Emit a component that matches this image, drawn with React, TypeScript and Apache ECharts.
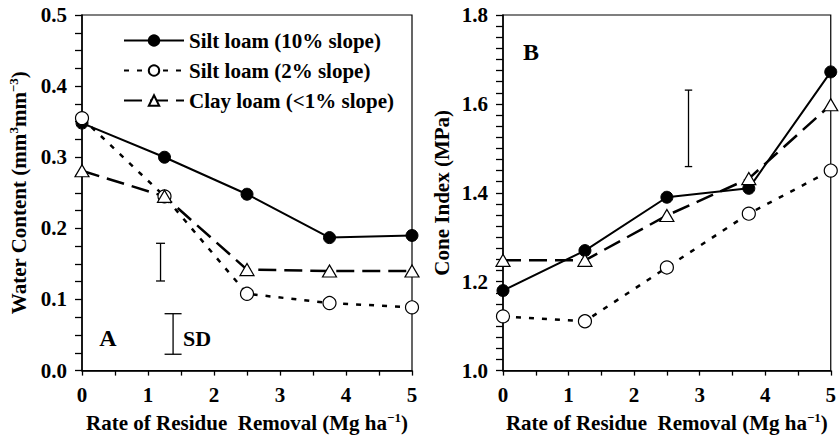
import React, { useEffect, useRef } from "react";
import * as echarts from "echarts";

const xRates = [0, 1.25, 2.5, 3.75, 5];
const seriesNames = ["Silt loam (10% slope)", "Silt loam (2% slope)", "Clay loam (<1% slope)"];
const waterSilt10 = [0.348, 0.3, 0.248, 0.187, 0.19];
const waterSilt2 = [0.355, 0.245, 0.108, 0.095, 0.089];
const waterClay = [0.281, 0.245, 0.142, 0.14, 0.14];
const coneSilt10 = [1.18, 1.27, 1.39, 1.41, 1.672];
const coneSilt2 = [1.122, 1.111, 1.232, 1.353, 1.45];
const coneClay = [1.248, 1.248, 1.349, 1.432, 1.598];
// error bars: [x, low, high]
const sdBarsWater = [
  [1.19, 0.126, 0.179],
  [1.38, 0.023, 0.08],
];
const sdBarsCone = [[2.83, 1.459, 1.631]];
const capHalfWater = [4.5, 8.5];
const capHalfCone = [3.7];

const FONT = '"Liberation Serif", "Times New Roman", serif';

export default function App() {
  const ref = useRef<HTMLDivElement>(null);
  useEffect(() => {
    if (!ref.current) return;
    const chart = echarts.init(ref.current, undefined, { renderer: "svg" });
    const txt = { fontFamily: FONT, fontWeight: "bold" as const, color: "#000" };
    const rich = {
      sup: { fontFamily: FONT, fontWeight: "bold", fontSize: 13, verticalAlign: "top", color: "#000" },
      n: { fontFamily: FONT, fontWeight: "bold", fontSize: 21, lineHeight: 24, color: "#000" },
    };
    const xAxisBase = (gridIndex: number) => ({
      type: "value",
      gridIndex,
      min: 0,
      max: 5,
      interval: 1,
      axisLine: { show: true, lineStyle: { color: "#000", width: 1.5 } },
      axisTick: { show: true, inside: false, length: 5, lineStyle: { color: "#000", width: 1.3 } },
      minorTick: { show: true, splitNumber: 2, length: 5, lineStyle: { color: "#000", width: 1.3 } },
      splitLine: { show: false },
      minorSplitLine: { show: false },
      axisLabel: { ...txt, fontSize: 21, margin: 14 },
      name: "{n|Rate of Residue  Removal (Mg ha}{sup|−1}{n|)}",
      nameLocation: "middle",
      nameGap: 36,
      nameTextStyle: { ...txt, fontSize: 21, rich },
    });
    const lineSeries = (name: string, data: number[], idx: number, kind: number) => {
      const base: any = {
        type: "line",
        name,
        xAxisIndex: idx,
        yAxisIndex: idx,
        data: xRates.map((x, i) => [x, data[i]]),
        symbolSize: 12,
        z: 3,
      };
      if (kind === 0) {
        base.symbol = "circle";
        base.symbolSize = 12;
        base.itemStyle = { color: "#000", borderColor: "#000", borderWidth: 1 };
        base.lineStyle = { color: "#000", width: 2, type: "solid" };
      } else if (kind === 1) {
        base.symbol = "circle";
        base.symbolSize = 13;
        base.itemStyle = { color: "#fff", borderColor: "#000", borderWidth: 1.2 };
        base.lineStyle = { color: "#000", width: 2.5, type: [5, 8] };
      } else {
        base.symbol = "triangle";
        base.symbolSize = [14, 12];
        base.itemStyle = { color: "#fff", borderColor: "#000", borderWidth: 1.2 };
        base.lineStyle = { color: "#000", width: 2.5, type: [18, 8] };
      }
      return base;
    };
    const errSeries = (bars: number[][], caps: number[], idx: number) => ({
      type: "custom",
      xAxisIndex: idx,
      yAxisIndex: idx,
      silent: true,
      data: bars,
      encode: { x: 0, y: [1, 2] },
      renderItem: (params: any, api: any) => {
        const x = api.value(0);
        const top = api.coord([x, api.value(2)]);
        const bot = api.coord([x, api.value(1)]);
        const h = caps[params.dataIndex];
        const st = { stroke: "#000", lineWidth: 1.3 };
        return {
          type: "group",
          children: [
            { type: "line", shape: { x1: top[0], y1: top[1], x2: bot[0], y2: bot[1] }, style: st },
            { type: "line", shape: { x1: top[0] - h, y1: top[1], x2: top[0] + h, y2: top[1] }, style: st },
            { type: "line", shape: { x1: bot[0] - h, y1: bot[1], x2: bot[0] + h, y2: bot[1] }, style: st },
          ],
        };
      },
    });
    const yAxisCommon = {
      type: "value",
      axisLine: { show: true, lineStyle: { color: "#000", width: 1.5 } },
      axisTick: { show: true, inside: false, length: 7, lineStyle: { color: "#000", width: 1.3 } },
      splitLine: { show: false },
      minorSplitLine: { show: false },
      axisLabel: { ...txt, fontSize: 21, margin: 15, formatter: (v: number) => v.toFixed(1) },
      nameLocation: "middle",
      nameRotate: 90,
      nameGap: 51,
    };
    const option: any = {
      animation: false,
      backgroundColor: "#fff",
      grid: [
        { left: 82, top: 15, width: 330, height: 361, show: true, borderColor: "#000", borderWidth: 1.2, backgroundColor: "transparent" },
        { left: 503, top: 15, width: 331, height: 361, show: true, borderColor: "#000", borderWidth: 1.2, backgroundColor: "transparent" },
      ],
      legend: {
        data: seriesNames,
        orient: "vertical",
        left: 118,
        top: 25,
        itemWidth: 60,
        itemHeight: 13,
        itemGap: 9,
        textStyle: { ...txt, fontSize: 21 },
        selectedMode: false,
      },
      xAxis: [xAxisBase(0), xAxisBase(1)],
      yAxis: [
        {
          ...yAxisCommon,
          gridIndex: 0,
          min: 0,
          max: 0.5,
          interval: 0.1,
          minorTick: { show: true, splitNumber: 4, length: 7, lineStyle: { color: "#000", width: 1.3 } },
          name: "{n|Water Content (mm}{sup|3}{n|mm}{sup|−3}{n|)}",
          nameTextStyle: { ...txt, fontSize: 21, rich },
        },
        {
          ...yAxisCommon,
          gridIndex: 1,
          min: 1.0,
          max: 1.8,
          interval: 0.2,
          minorTick: { show: true, splitNumber: 8, length: 7, lineStyle: { color: "#000", width: 1.3 } },
          name: "Cone Index (MPa)",
          nameTextStyle: { ...txt, fontSize: 21 },
        },
      ],
      graphic: [
        { type: "text", x: 108, y: 338, style: { text: "A", fontFamily: FONT, fontWeight: "bold", fontSize: 24, fill: "#000", align: "center", verticalAlign: "middle" } },
        { type: "text", x: 183, y: 338, style: { text: "SD", fontFamily: FONT, fontWeight: "bold", fontSize: 22, fill: "#000", align: "left", verticalAlign: "middle" } },
        { type: "text", x: 531, y: 52, style: { text: "B", fontFamily: FONT, fontWeight: "bold", fontSize: 24, fill: "#000", align: "center", verticalAlign: "middle" } },
      ],
      series: [
        lineSeries(seriesNames[0], waterSilt10, 0, 0),
        lineSeries(seriesNames[1], waterSilt2, 0, 1),
        lineSeries(seriesNames[2], waterClay, 0, 2),
        lineSeries(seriesNames[0], coneSilt10, 1, 0),
        lineSeries(seriesNames[1], coneSilt2, 1, 1),
        lineSeries(seriesNames[2], coneClay, 1, 2),
        errSeries(sdBarsWater, capHalfWater, 0),
        errSeries(sdBarsCone, capHalfCone, 1),
      ],
    };
    chart.setOption(option);
    return () => chart.dispose();
  }, []);
  return <div ref={ref} style={{ position: "fixed", left: 0, top: 0, width: 839, height: 438, background: "#fff" }} />;
}
